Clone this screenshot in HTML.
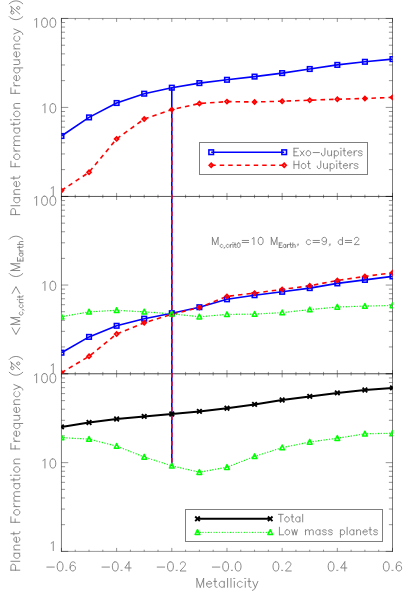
<!DOCTYPE html>
<html><head><meta charset="utf-8"><title>plot</title>
<style>html,body{margin:0;padding:0;background:#fff;font-family:"Liberation Sans",sans-serif}svg{display:block}</style></head>
<body>
<svg width="409" height="613" viewBox="0 0 409 613">
<rect width="409" height="613" fill="#fff"/>
<path d="M61.45 17.95 V196.90 M392.50 17.95 V196.90" fill="none" stroke="#000" stroke-width="1" stroke-opacity="0.52"/>
<path d="M61.45 18.45 H392.50" fill="none" stroke="#000" stroke-width="1" stroke-opacity="0.4"/>
<path d="M61.45 196.40 H392.50" fill="none" stroke="#000" stroke-width="1" stroke-opacity="0.4"/>
<path d="M61.45 18.45 v3.50M61.45 196.40 v-3.50M75.24 18.45 v1.70M75.24 196.40 v-1.70M89.04 18.45 v1.70M89.04 196.40 v-1.70M102.83 18.45 v1.70M102.83 196.40 v-1.70M116.62 18.45 v3.50M116.62 196.40 v-3.50M130.42 18.45 v1.70M130.42 196.40 v-1.70M144.21 18.45 v1.70M144.21 196.40 v-1.70M158.01 18.45 v1.70M158.01 196.40 v-1.70M171.80 18.45 v3.50M171.80 196.40 v-3.50M185.59 18.45 v1.70M185.59 196.40 v-1.70M199.39 18.45 v1.70M199.39 196.40 v-1.70M213.18 18.45 v1.70M213.18 196.40 v-1.70M226.98 18.45 v3.50M226.98 196.40 v-3.50M240.77 18.45 v1.70M240.77 196.40 v-1.70M254.56 18.45 v1.70M254.56 196.40 v-1.70M268.36 18.45 v1.70M268.36 196.40 v-1.70M282.15 18.45 v3.50M282.15 196.40 v-3.50M295.94 18.45 v1.70M295.94 196.40 v-1.70M309.74 18.45 v1.70M309.74 196.40 v-1.70M323.53 18.45 v1.70M323.53 196.40 v-1.70M337.32 18.45 v3.50M337.32 196.40 v-3.50M351.12 18.45 v1.70M351.12 196.40 v-1.70M364.91 18.45 v1.70M364.91 196.40 v-1.70M378.71 18.45 v1.70M378.71 196.40 v-1.70M392.50 18.45 v3.50M392.50 196.40 v-3.50M61.45 196.40 h6.80M392.50 196.40 h-6.80M61.45 169.62 h3.60M392.50 169.62 h-3.60M61.45 153.95 h3.60M392.50 153.95 h-3.60M61.45 142.83 h3.60M392.50 142.83 h-3.60M61.45 134.21 h3.60M392.50 134.21 h-3.60M61.45 127.16 h3.60M392.50 127.16 h-3.60M61.45 121.21 h3.60M392.50 121.21 h-3.60M61.45 116.05 h3.60M392.50 116.05 h-3.60M61.45 111.50 h3.60M392.50 111.50 h-3.60M61.45 107.42 h6.80M392.50 107.42 h-6.80M61.45 80.64 h3.60M392.50 80.64 h-3.60M61.45 64.97 h3.60M392.50 64.97 h-3.60M61.45 53.86 h3.60M392.50 53.86 h-3.60M61.45 45.23 h3.60M392.50 45.23 h-3.60M61.45 38.19 h3.60M392.50 38.19 h-3.60M61.45 32.23 h3.60M392.50 32.23 h-3.60M61.45 27.07 h3.60M392.50 27.07 h-3.60M61.45 22.52 h3.60M392.50 22.52 h-3.60M61.45 18.45 h6.8 M392.50 18.45 h-6.8" fill="none" stroke="#000" stroke-width="1" stroke-opacity="0.42"/>
<path d="M61.45 196.00 V374.10 M392.50 196.00 V374.10" fill="none" stroke="#000" stroke-width="1" stroke-opacity="0.52"/>
<path d="M61.45 196.50 H392.50" fill="none" stroke="#000" stroke-width="1" stroke-opacity="0.4"/>
<path d="M61.45 373.60 H392.50" fill="none" stroke="#000" stroke-width="1" stroke-opacity="0.4"/>
<path d="M61.45 196.50 v3.50M61.45 373.60 v-3.50M75.24 196.50 v1.70M75.24 373.60 v-1.70M89.04 196.50 v1.70M89.04 373.60 v-1.70M102.83 196.50 v1.70M102.83 373.60 v-1.70M116.62 196.50 v3.50M116.62 373.60 v-3.50M130.42 196.50 v1.70M130.42 373.60 v-1.70M144.21 196.50 v1.70M144.21 373.60 v-1.70M158.01 196.50 v1.70M158.01 373.60 v-1.70M171.80 196.50 v3.50M171.80 373.60 v-3.50M185.59 196.50 v1.70M185.59 373.60 v-1.70M199.39 196.50 v1.70M199.39 373.60 v-1.70M213.18 196.50 v1.70M213.18 373.60 v-1.70M226.98 196.50 v3.50M226.98 373.60 v-3.50M240.77 196.50 v1.70M240.77 373.60 v-1.70M254.56 196.50 v1.70M254.56 373.60 v-1.70M268.36 196.50 v1.70M268.36 373.60 v-1.70M282.15 196.50 v3.50M282.15 373.60 v-3.50M295.94 196.50 v1.70M295.94 373.60 v-1.70M309.74 196.50 v1.70M309.74 373.60 v-1.70M323.53 196.50 v1.70M323.53 373.60 v-1.70M337.32 196.50 v3.50M337.32 373.60 v-3.50M351.12 196.50 v1.70M351.12 373.60 v-1.70M364.91 196.50 v1.70M364.91 373.60 v-1.70M378.71 196.50 v1.70M378.71 373.60 v-1.70M392.50 196.50 v3.50M392.50 373.60 v-3.50M61.45 373.60 h6.80M392.50 373.60 h-6.80M61.45 346.94 h3.60M392.50 346.94 h-3.60M61.45 331.35 h3.60M392.50 331.35 h-3.60M61.45 320.29 h3.60M392.50 320.29 h-3.60M61.45 311.71 h3.60M392.50 311.71 h-3.60M61.45 304.69 h3.60M392.50 304.69 h-3.60M61.45 298.77 h3.60M392.50 298.77 h-3.60M61.45 293.63 h3.60M392.50 293.63 h-3.60M61.45 289.10 h3.60M392.50 289.10 h-3.60M61.45 285.05 h6.80M392.50 285.05 h-6.80M61.45 258.39 h3.60M392.50 258.39 h-3.60M61.45 242.80 h3.60M392.50 242.80 h-3.60M61.45 231.74 h3.60M392.50 231.74 h-3.60M61.45 223.16 h3.60M392.50 223.16 h-3.60M61.45 216.14 h3.60M392.50 216.14 h-3.60M61.45 210.22 h3.60M392.50 210.22 h-3.60M61.45 205.08 h3.60M392.50 205.08 h-3.60M61.45 200.55 h3.60M392.50 200.55 h-3.60M61.45 196.50 h6.8 M392.50 196.50 h-6.8" fill="none" stroke="#000" stroke-width="1" stroke-opacity="0.42"/>
<path d="M61.45 373.40 V551.90 M392.50 373.40 V551.90" fill="none" stroke="#000" stroke-width="1" stroke-opacity="0.52"/>
<path d="M61.45 373.90 H392.50" fill="none" stroke="#000" stroke-width="1" stroke-opacity="0.4"/>
<path d="M61.45 551.40 H392.50" fill="none" stroke="#000" stroke-width="1" stroke-opacity="0.4"/>
<path d="M61.45 373.90 v3.50M61.45 551.40 v-3.50M75.24 373.90 v1.70M75.24 551.40 v-1.70M89.04 373.90 v1.70M89.04 551.40 v-1.70M102.83 373.90 v1.70M102.83 551.40 v-1.70M116.62 373.90 v3.50M116.62 551.40 v-3.50M130.42 373.90 v1.70M130.42 551.40 v-1.70M144.21 373.90 v1.70M144.21 551.40 v-1.70M158.01 373.90 v1.70M158.01 551.40 v-1.70M171.80 373.90 v3.50M171.80 551.40 v-3.50M185.59 373.90 v1.70M185.59 551.40 v-1.70M199.39 373.90 v1.70M199.39 551.40 v-1.70M213.18 373.90 v1.70M213.18 551.40 v-1.70M226.98 373.90 v3.50M226.98 551.40 v-3.50M240.77 373.90 v1.70M240.77 551.40 v-1.70M254.56 373.90 v1.70M254.56 551.40 v-1.70M268.36 373.90 v1.70M268.36 551.40 v-1.70M282.15 373.90 v3.50M282.15 551.40 v-3.50M295.94 373.90 v1.70M295.94 551.40 v-1.70M309.74 373.90 v1.70M309.74 551.40 v-1.70M323.53 373.90 v1.70M323.53 551.40 v-1.70M337.32 373.90 v3.50M337.32 551.40 v-3.50M351.12 373.90 v1.70M351.12 551.40 v-1.70M364.91 373.90 v1.70M364.91 551.40 v-1.70M378.71 373.90 v1.70M378.71 551.40 v-1.70M392.50 373.90 v3.50M392.50 551.40 v-3.50M61.45 551.40 h6.80M392.50 551.40 h-6.80M61.45 524.68 h3.60M392.50 524.68 h-3.60M61.45 509.06 h3.60M392.50 509.06 h-3.60M61.45 497.97 h3.60M392.50 497.97 h-3.60M61.45 489.37 h3.60M392.50 489.37 h-3.60M61.45 482.34 h3.60M392.50 482.34 h-3.60M61.45 476.40 h3.60M392.50 476.40 h-3.60M61.45 471.25 h3.60M392.50 471.25 h-3.60M61.45 466.71 h3.60M392.50 466.71 h-3.60M61.45 462.65 h6.80M392.50 462.65 h-6.80M61.45 435.93 h3.60M392.50 435.93 h-3.60M61.45 420.31 h3.60M392.50 420.31 h-3.60M61.45 409.22 h3.60M392.50 409.22 h-3.60M61.45 400.62 h3.60M392.50 400.62 h-3.60M61.45 393.59 h3.60M392.50 393.59 h-3.60M61.45 387.65 h3.60M392.50 387.65 h-3.60M61.45 382.50 h3.60M392.50 382.50 h-3.60M61.45 377.96 h3.60M392.50 377.96 h-3.60M61.45 373.90 h6.8 M392.50 373.90 h-6.8" fill="none" stroke="#000" stroke-width="1" stroke-opacity="0.42"/>
<line x1="171.80" y1="87.70" x2="171.80" y2="465.80" stroke="#0000ff" stroke-width="1.6"/>
<line x1="171.80" y1="109.60" x2="171.80" y2="465.80" stroke="#ff0000" stroke-width="1.6" stroke-dasharray="4.5 4.0"/>
<defs><clipPath id="c0"><rect x="61.25" y="18.45" width="331.65" height="177.95"/></clipPath><clipPath id="c1"><rect x="61.25" y="196.50" width="331.65" height="177.10"/></clipPath><clipPath id="c2"><rect x="61.25" y="373.90" width="331.65" height="177.50"/></clipPath></defs>
<g clip-path="url(#c0)">
<polyline points="61.45,136.00 89.04,117.40 116.62,103.00 144.21,93.70 171.80,87.70 199.39,83.10 226.98,79.80 254.56,76.60 282.15,73.10 309.74,69.00 337.32,64.90 364.91,61.80 392.50,59.10" fill="none" stroke="#0000ff" stroke-width="1.6" stroke-linejoin="round"/>
<polyline points="61.45,190.50 89.04,172.30 116.62,138.90 144.21,119.00 171.80,109.60 199.39,103.50 226.98,101.60 254.56,102.00 282.15,101.20 309.74,100.20 337.32,99.20 364.91,98.50 392.50,97.40" fill="none" stroke="#ff0000" stroke-width="1.6" stroke-dasharray="4.5 4.0" stroke-linejoin="round"/>
<rect x="59.15" y="133.70" width="4.60" height="4.60" fill="none" stroke="#0000ff" stroke-width="1.55"/>
<path d="M59.40 190.50 L61.45 188.45 L63.50 190.50 L61.45 192.55 Z" fill="#ff0000" fill-opacity="0.45" stroke="#ff0000" stroke-width="1.6"/>
<rect x="86.74" y="115.10" width="4.60" height="4.60" fill="none" stroke="#0000ff" stroke-width="1.55"/>
<path d="M86.99 172.30 L89.04 170.25 L91.09 172.30 L89.04 174.35 Z" fill="#ff0000" fill-opacity="0.45" stroke="#ff0000" stroke-width="1.6"/>
<rect x="114.33" y="100.70" width="4.60" height="4.60" fill="none" stroke="#0000ff" stroke-width="1.55"/>
<path d="M114.58 138.90 L116.62 136.85 L118.67 138.90 L116.62 140.95 Z" fill="#ff0000" fill-opacity="0.45" stroke="#ff0000" stroke-width="1.6"/>
<rect x="141.91" y="91.40" width="4.60" height="4.60" fill="none" stroke="#0000ff" stroke-width="1.55"/>
<path d="M142.16 119.00 L144.21 116.95 L146.26 119.00 L144.21 121.05 Z" fill="#ff0000" fill-opacity="0.45" stroke="#ff0000" stroke-width="1.6"/>
<rect x="169.50" y="85.40" width="4.60" height="4.60" fill="none" stroke="#0000ff" stroke-width="1.55"/>
<path d="M169.75 109.60 L171.80 107.55 L173.85 109.60 L171.80 111.65 Z" fill="#ff0000" fill-opacity="0.45" stroke="#ff0000" stroke-width="1.6"/>
<rect x="197.09" y="80.80" width="4.60" height="4.60" fill="none" stroke="#0000ff" stroke-width="1.55"/>
<path d="M197.34 103.50 L199.39 101.45 L201.44 103.50 L199.39 105.55 Z" fill="#ff0000" fill-opacity="0.45" stroke="#ff0000" stroke-width="1.6"/>
<rect x="224.68" y="77.50" width="4.60" height="4.60" fill="none" stroke="#0000ff" stroke-width="1.55"/>
<path d="M224.93 101.60 L226.98 99.55 L229.03 101.60 L226.98 103.65 Z" fill="#ff0000" fill-opacity="0.45" stroke="#ff0000" stroke-width="1.6"/>
<rect x="252.26" y="74.30" width="4.60" height="4.60" fill="none" stroke="#0000ff" stroke-width="1.55"/>
<path d="M252.51 102.00 L254.56 99.95 L256.61 102.00 L254.56 104.05 Z" fill="#ff0000" fill-opacity="0.45" stroke="#ff0000" stroke-width="1.6"/>
<rect x="279.85" y="70.80" width="4.60" height="4.60" fill="none" stroke="#0000ff" stroke-width="1.55"/>
<path d="M280.10 101.20 L282.15 99.15 L284.20 101.20 L282.15 103.25 Z" fill="#ff0000" fill-opacity="0.45" stroke="#ff0000" stroke-width="1.6"/>
<rect x="307.44" y="66.70" width="4.60" height="4.60" fill="none" stroke="#0000ff" stroke-width="1.55"/>
<path d="M307.69 100.20 L309.74 98.15 L311.79 100.20 L309.74 102.25 Z" fill="#ff0000" fill-opacity="0.45" stroke="#ff0000" stroke-width="1.6"/>
<rect x="335.02" y="62.60" width="4.60" height="4.60" fill="none" stroke="#0000ff" stroke-width="1.55"/>
<path d="M335.27 99.20 L337.32 97.15 L339.38 99.20 L337.32 101.25 Z" fill="#ff0000" fill-opacity="0.45" stroke="#ff0000" stroke-width="1.6"/>
<rect x="362.61" y="59.50" width="4.60" height="4.60" fill="none" stroke="#0000ff" stroke-width="1.55"/>
<path d="M362.86 98.50 L364.91 96.45 L366.96 98.50 L364.91 100.55 Z" fill="#ff0000" fill-opacity="0.45" stroke="#ff0000" stroke-width="1.6"/>
<rect x="390.20" y="56.80" width="4.60" height="4.60" fill="none" stroke="#0000ff" stroke-width="1.55"/>
<path d="M390.45 97.40 L392.50 95.35 L394.55 97.40 L392.50 99.45 Z" fill="#ff0000" fill-opacity="0.45" stroke="#ff0000" stroke-width="1.6"/>
</g>
<g clip-path="url(#c1)">
<polyline points="61.45,352.70 89.04,336.90 116.62,325.80 144.21,318.70 171.80,313.20 199.39,307.20 226.98,299.30 254.56,295.20 282.15,291.80 309.74,288.10 337.32,283.40 364.91,279.90 392.50,276.40" fill="none" stroke="#0000ff" stroke-width="1.6" stroke-linejoin="round"/>
<polyline points="61.45,372.70 89.04,356.30 116.62,334.00 144.21,322.80 171.80,314.30 199.39,307.50 226.98,296.40 254.56,293.10 282.15,289.40 309.74,285.80 337.32,280.50 364.91,276.40 392.50,272.80" fill="none" stroke="#ff0000" stroke-width="1.6" stroke-dasharray="4.5 4.0" stroke-linejoin="round"/>
<polyline points="61.45,316.70 89.04,311.80 116.62,310.30 144.21,311.80 171.80,313.80 199.39,316.70 226.98,314.40 254.56,314.10 282.15,312.60 309.74,309.60 337.32,307.00 364.91,306.10 392.50,305.50" fill="none" stroke="#00ff00" stroke-width="1.35" stroke-dasharray="0.1 2.65" stroke-linejoin="round" stroke-linecap="round"/>
<rect x="59.15" y="350.40" width="4.60" height="4.60" fill="none" stroke="#0000ff" stroke-width="1.55"/>
<path d="M59.40 372.70 L61.45 370.65 L63.50 372.70 L61.45 374.75 Z" fill="#ff0000" fill-opacity="0.45" stroke="#ff0000" stroke-width="1.6"/>
<path d="M59.05 318.90 L61.45 314.10 L63.85 318.90 Z" fill="none" stroke="#00ff00" stroke-width="1.5" stroke-linejoin="round"/>
<rect x="86.74" y="334.60" width="4.60" height="4.60" fill="none" stroke="#0000ff" stroke-width="1.55"/>
<path d="M86.99 356.30 L89.04 354.25 L91.09 356.30 L89.04 358.35 Z" fill="#ff0000" fill-opacity="0.45" stroke="#ff0000" stroke-width="1.6"/>
<path d="M86.64 314.00 L89.04 309.20 L91.44 314.00 Z" fill="none" stroke="#00ff00" stroke-width="1.5" stroke-linejoin="round"/>
<rect x="114.33" y="323.50" width="4.60" height="4.60" fill="none" stroke="#0000ff" stroke-width="1.55"/>
<path d="M114.58 334.00 L116.62 331.95 L118.67 334.00 L116.62 336.05 Z" fill="#ff0000" fill-opacity="0.45" stroke="#ff0000" stroke-width="1.6"/>
<path d="M114.22 312.50 L116.62 307.70 L119.03 312.50 Z" fill="none" stroke="#00ff00" stroke-width="1.5" stroke-linejoin="round"/>
<rect x="141.91" y="316.40" width="4.60" height="4.60" fill="none" stroke="#0000ff" stroke-width="1.55"/>
<path d="M142.16 322.80 L144.21 320.75 L146.26 322.80 L144.21 324.85 Z" fill="#ff0000" fill-opacity="0.45" stroke="#ff0000" stroke-width="1.6"/>
<path d="M141.81 314.00 L144.21 309.20 L146.61 314.00 Z" fill="none" stroke="#00ff00" stroke-width="1.5" stroke-linejoin="round"/>
<rect x="169.50" y="310.90" width="4.60" height="4.60" fill="none" stroke="#0000ff" stroke-width="1.55"/>
<path d="M169.75 314.30 L171.80 312.25 L173.85 314.30 L171.80 316.35 Z" fill="#ff0000" fill-opacity="0.45" stroke="#ff0000" stroke-width="1.6"/>
<path d="M169.40 316.00 L171.80 311.20 L174.20 316.00 Z" fill="none" stroke="#00ff00" stroke-width="1.5" stroke-linejoin="round"/>
<rect x="197.09" y="304.90" width="4.60" height="4.60" fill="none" stroke="#0000ff" stroke-width="1.55"/>
<path d="M197.34 307.50 L199.39 305.45 L201.44 307.50 L199.39 309.55 Z" fill="#ff0000" fill-opacity="0.45" stroke="#ff0000" stroke-width="1.6"/>
<path d="M196.99 318.90 L199.39 314.10 L201.79 318.90 Z" fill="none" stroke="#00ff00" stroke-width="1.5" stroke-linejoin="round"/>
<rect x="224.68" y="297.00" width="4.60" height="4.60" fill="none" stroke="#0000ff" stroke-width="1.55"/>
<path d="M224.93 296.40 L226.98 294.35 L229.03 296.40 L226.98 298.45 Z" fill="#ff0000" fill-opacity="0.45" stroke="#ff0000" stroke-width="1.6"/>
<path d="M224.58 316.60 L226.98 311.80 L229.38 316.60 Z" fill="none" stroke="#00ff00" stroke-width="1.5" stroke-linejoin="round"/>
<rect x="252.26" y="292.90" width="4.60" height="4.60" fill="none" stroke="#0000ff" stroke-width="1.55"/>
<path d="M252.51 293.10 L254.56 291.05 L256.61 293.10 L254.56 295.15 Z" fill="#ff0000" fill-opacity="0.45" stroke="#ff0000" stroke-width="1.6"/>
<path d="M252.16 316.30 L254.56 311.50 L256.96 316.30 Z" fill="none" stroke="#00ff00" stroke-width="1.5" stroke-linejoin="round"/>
<rect x="279.85" y="289.50" width="4.60" height="4.60" fill="none" stroke="#0000ff" stroke-width="1.55"/>
<path d="M280.10 289.40 L282.15 287.35 L284.20 289.40 L282.15 291.45 Z" fill="#ff0000" fill-opacity="0.45" stroke="#ff0000" stroke-width="1.6"/>
<path d="M279.75 314.80 L282.15 310.00 L284.55 314.80 Z" fill="none" stroke="#00ff00" stroke-width="1.5" stroke-linejoin="round"/>
<rect x="307.44" y="285.80" width="4.60" height="4.60" fill="none" stroke="#0000ff" stroke-width="1.55"/>
<path d="M307.69 285.80 L309.74 283.75 L311.79 285.80 L309.74 287.85 Z" fill="#ff0000" fill-opacity="0.45" stroke="#ff0000" stroke-width="1.6"/>
<path d="M307.34 311.80 L309.74 307.00 L312.14 311.80 Z" fill="none" stroke="#00ff00" stroke-width="1.5" stroke-linejoin="round"/>
<rect x="335.02" y="281.10" width="4.60" height="4.60" fill="none" stroke="#0000ff" stroke-width="1.55"/>
<path d="M335.27 280.50 L337.32 278.45 L339.38 280.50 L337.32 282.55 Z" fill="#ff0000" fill-opacity="0.45" stroke="#ff0000" stroke-width="1.6"/>
<path d="M334.93 309.20 L337.32 304.40 L339.72 309.20 Z" fill="none" stroke="#00ff00" stroke-width="1.5" stroke-linejoin="round"/>
<rect x="362.61" y="277.60" width="4.60" height="4.60" fill="none" stroke="#0000ff" stroke-width="1.55"/>
<path d="M362.86 276.40 L364.91 274.35 L366.96 276.40 L364.91 278.45 Z" fill="#ff0000" fill-opacity="0.45" stroke="#ff0000" stroke-width="1.6"/>
<path d="M362.51 308.30 L364.91 303.50 L367.31 308.30 Z" fill="none" stroke="#00ff00" stroke-width="1.5" stroke-linejoin="round"/>
<rect x="390.20" y="274.10" width="4.60" height="4.60" fill="none" stroke="#0000ff" stroke-width="1.55"/>
<path d="M390.45 272.80 L392.50 270.75 L394.55 272.80 L392.50 274.85 Z" fill="#ff0000" fill-opacity="0.45" stroke="#ff0000" stroke-width="1.6"/>
<path d="M390.10 307.70 L392.50 302.90 L394.90 307.70 Z" fill="none" stroke="#00ff00" stroke-width="1.5" stroke-linejoin="round"/>
</g>
<g clip-path="url(#c2)">
<polyline points="61.45,426.90 89.04,422.50 116.62,419.00 144.21,416.40 171.80,414.00 199.39,411.40 226.98,408.20 254.56,404.40 282.15,400.00 309.74,396.40 337.32,392.90 364.91,390.00 392.50,387.90" fill="none" stroke="#000" stroke-width="2" stroke-linejoin="round"/>
<polyline points="61.45,437.60 89.04,439.10 116.62,446.10 144.21,457.00 171.80,465.80 199.39,472.20 226.98,467.20 254.56,456.40 282.15,447.60 309.74,442.00 337.32,438.20 364.91,433.80 392.50,433.20" fill="none" stroke="#00ff00" stroke-width="1.35" stroke-dasharray="0.1 2.65" stroke-linejoin="round" stroke-linecap="round"/>
<path d="M59.15 424.60 L63.75 429.20 M59.15 429.20 L63.75 424.60" fill="none" stroke="#000" stroke-width="1.9"/>
<path d="M59.05 439.80 L61.45 435.00 L63.85 439.80 Z" fill="none" stroke="#00ff00" stroke-width="1.5" stroke-linejoin="round"/>
<path d="M86.74 420.20 L91.34 424.80 M86.74 424.80 L91.34 420.20" fill="none" stroke="#000" stroke-width="1.9"/>
<path d="M86.64 441.30 L89.04 436.50 L91.44 441.30 Z" fill="none" stroke="#00ff00" stroke-width="1.5" stroke-linejoin="round"/>
<path d="M114.33 416.70 L118.92 421.30 M114.33 421.30 L118.92 416.70" fill="none" stroke="#000" stroke-width="1.9"/>
<path d="M114.22 448.30 L116.62 443.50 L119.03 448.30 Z" fill="none" stroke="#00ff00" stroke-width="1.5" stroke-linejoin="round"/>
<path d="M141.91 414.10 L146.51 418.70 M141.91 418.70 L146.51 414.10" fill="none" stroke="#000" stroke-width="1.9"/>
<path d="M141.81 459.20 L144.21 454.40 L146.61 459.20 Z" fill="none" stroke="#00ff00" stroke-width="1.5" stroke-linejoin="round"/>
<path d="M169.50 411.70 L174.10 416.30 M169.50 416.30 L174.10 411.70" fill="none" stroke="#000" stroke-width="1.9"/>
<path d="M169.40 468.00 L171.80 463.20 L174.20 468.00 Z" fill="none" stroke="#00ff00" stroke-width="1.5" stroke-linejoin="round"/>
<path d="M197.09 409.10 L201.69 413.70 M197.09 413.70 L201.69 409.10" fill="none" stroke="#000" stroke-width="1.9"/>
<path d="M196.99 474.40 L199.39 469.60 L201.79 474.40 Z" fill="none" stroke="#00ff00" stroke-width="1.5" stroke-linejoin="round"/>
<path d="M224.68 405.90 L229.28 410.50 M224.68 410.50 L229.28 405.90" fill="none" stroke="#000" stroke-width="1.9"/>
<path d="M224.58 469.40 L226.98 464.60 L229.38 469.40 Z" fill="none" stroke="#00ff00" stroke-width="1.5" stroke-linejoin="round"/>
<path d="M252.26 402.10 L256.86 406.70 M252.26 406.70 L256.86 402.10" fill="none" stroke="#000" stroke-width="1.9"/>
<path d="M252.16 458.60 L254.56 453.80 L256.96 458.60 Z" fill="none" stroke="#00ff00" stroke-width="1.5" stroke-linejoin="round"/>
<path d="M279.85 397.70 L284.45 402.30 M279.85 402.30 L284.45 397.70" fill="none" stroke="#000" stroke-width="1.9"/>
<path d="M279.75 449.80 L282.15 445.00 L284.55 449.80 Z" fill="none" stroke="#00ff00" stroke-width="1.5" stroke-linejoin="round"/>
<path d="M307.44 394.10 L312.04 398.70 M307.44 398.70 L312.04 394.10" fill="none" stroke="#000" stroke-width="1.9"/>
<path d="M307.34 444.20 L309.74 439.40 L312.14 444.20 Z" fill="none" stroke="#00ff00" stroke-width="1.5" stroke-linejoin="round"/>
<path d="M335.02 390.60 L339.62 395.20 M335.02 395.20 L339.62 390.60" fill="none" stroke="#000" stroke-width="1.9"/>
<path d="M334.93 440.40 L337.32 435.60 L339.72 440.40 Z" fill="none" stroke="#00ff00" stroke-width="1.5" stroke-linejoin="round"/>
<path d="M362.61 387.70 L367.21 392.30 M362.61 392.30 L367.21 387.70" fill="none" stroke="#000" stroke-width="1.9"/>
<path d="M362.51 436.00 L364.91 431.20 L367.31 436.00 Z" fill="none" stroke="#00ff00" stroke-width="1.5" stroke-linejoin="round"/>
<path d="M390.20 385.60 L394.80 390.20 M390.20 390.20 L394.80 385.60" fill="none" stroke="#000" stroke-width="1.9"/>
<path d="M390.10 435.40 L392.50 430.60 L394.90 435.40 Z" fill="none" stroke="#00ff00" stroke-width="1.5" stroke-linejoin="round"/>
</g>
<path transform="translate(57.00 27.29)" d="M-22.43 -7.39 L-21.60 -7.83 L-20.36 -9.13 L-20.36 0.00M-12.88 -9.13 L-14.12 -8.70 L-14.96 -7.39 L-15.37 -5.22 L-15.37 -3.92 L-14.96 -1.74 L-14.12 -0.43 L-12.88 0.00 L-12.05 0.00 L-10.80 -0.43 L-9.97 -1.74 L-9.55 -3.92 L-9.55 -5.22 L-9.97 -7.39 L-10.80 -8.70 L-12.05 -9.13 L-12.88 -9.13M-4.57 -9.13 L-5.82 -8.70 L-6.65 -7.39 L-7.06 -5.22 L-7.06 -3.92 L-6.65 -1.74 L-5.82 -0.43 L-4.57 0.00 L-3.74 0.00 L-2.49 -0.43 L-1.66 -1.74 L-1.25 -3.92 L-1.25 -5.22 L-1.66 -7.39 L-2.49 -8.70 L-3.74 -9.13 L-4.57 -9.13" fill="none" stroke="#7a7a7a" stroke-width="0.9" stroke-linecap="round" stroke-linejoin="round"/>
<path transform="translate(57.00 112.79)" d="M-14.12 -7.39 L-13.29 -7.83 L-12.05 -9.13 L-12.05 0.00M-4.57 -9.13 L-5.82 -8.70 L-6.65 -7.39 L-7.06 -5.22 L-7.06 -3.92 L-6.65 -1.74 L-5.82 -0.43 L-4.57 0.00 L-3.74 0.00 L-2.49 -0.43 L-1.66 -1.74 L-1.25 -3.92 L-1.25 -5.22 L-1.66 -7.39 L-2.49 -8.70 L-3.74 -9.13 L-4.57 -9.13" fill="none" stroke="#7a7a7a" stroke-width="0.9" stroke-linecap="round" stroke-linejoin="round"/>
<path transform="translate(57.00 195.60)" d="M-5.82 -7.39 L-4.99 -7.83 L-3.74 -9.13 L-3.74 0.00" fill="none" stroke="#7a7a7a" stroke-width="0.9" stroke-linecap="round" stroke-linejoin="round"/>
<path transform="translate(57.00 205.33)" d="M-22.43 -7.39 L-21.60 -7.83 L-20.36 -9.13 L-20.36 0.00M-12.88 -9.13 L-14.12 -8.70 L-14.96 -7.39 L-15.37 -5.22 L-15.37 -3.92 L-14.96 -1.74 L-14.12 -0.43 L-12.88 0.00 L-12.05 0.00 L-10.80 -0.43 L-9.97 -1.74 L-9.55 -3.92 L-9.55 -5.22 L-9.97 -7.39 L-10.80 -8.70 L-12.05 -9.13 L-12.88 -9.13M-4.57 -9.13 L-5.82 -8.70 L-6.65 -7.39 L-7.06 -5.22 L-7.06 -3.92 L-6.65 -1.74 L-5.82 -0.43 L-4.57 0.00 L-3.74 0.00 L-2.49 -0.43 L-1.66 -1.74 L-1.25 -3.92 L-1.25 -5.22 L-1.66 -7.39 L-2.49 -8.70 L-3.74 -9.13 L-4.57 -9.13" fill="none" stroke="#7a7a7a" stroke-width="0.9" stroke-linecap="round" stroke-linejoin="round"/>
<path transform="translate(57.00 290.42)" d="M-14.12 -7.39 L-13.29 -7.83 L-12.05 -9.13 L-12.05 0.00M-4.57 -9.13 L-5.82 -8.70 L-6.65 -7.39 L-7.06 -5.22 L-7.06 -3.92 L-6.65 -1.74 L-5.82 -0.43 L-4.57 0.00 L-3.74 0.00 L-2.49 -0.43 L-1.66 -1.74 L-1.25 -3.92 L-1.25 -5.22 L-1.66 -7.39 L-2.49 -8.70 L-3.74 -9.13 L-4.57 -9.13" fill="none" stroke="#7a7a7a" stroke-width="0.9" stroke-linecap="round" stroke-linejoin="round"/>
<path transform="translate(57.00 372.80)" d="M-5.82 -7.39 L-4.99 -7.83 L-3.74 -9.13 L-3.74 0.00" fill="none" stroke="#7a7a7a" stroke-width="0.9" stroke-linecap="round" stroke-linejoin="round"/>
<path transform="translate(57.00 382.73)" d="M-22.43 -7.39 L-21.60 -7.83 L-20.36 -9.13 L-20.36 0.00M-12.88 -9.13 L-14.12 -8.70 L-14.96 -7.39 L-15.37 -5.22 L-15.37 -3.92 L-14.96 -1.74 L-14.12 -0.43 L-12.88 0.00 L-12.05 0.00 L-10.80 -0.43 L-9.97 -1.74 L-9.55 -3.92 L-9.55 -5.22 L-9.97 -7.39 L-10.80 -8.70 L-12.05 -9.13 L-12.88 -9.13M-4.57 -9.13 L-5.82 -8.70 L-6.65 -7.39 L-7.06 -5.22 L-7.06 -3.92 L-6.65 -1.74 L-5.82 -0.43 L-4.57 0.00 L-3.74 0.00 L-2.49 -0.43 L-1.66 -1.74 L-1.25 -3.92 L-1.25 -5.22 L-1.66 -7.39 L-2.49 -8.70 L-3.74 -9.13 L-4.57 -9.13" fill="none" stroke="#7a7a7a" stroke-width="0.9" stroke-linecap="round" stroke-linejoin="round"/>
<path transform="translate(57.00 468.02)" d="M-14.12 -7.39 L-13.29 -7.83 L-12.05 -9.13 L-12.05 0.00M-4.57 -9.13 L-5.82 -8.70 L-6.65 -7.39 L-7.06 -5.22 L-7.06 -3.92 L-6.65 -1.74 L-5.82 -0.43 L-4.57 0.00 L-3.74 0.00 L-2.49 -0.43 L-1.66 -1.74 L-1.25 -3.92 L-1.25 -5.22 L-1.66 -7.39 L-2.49 -8.70 L-3.74 -9.13 L-4.57 -9.13" fill="none" stroke="#7a7a7a" stroke-width="0.9" stroke-linecap="round" stroke-linejoin="round"/>
<path transform="translate(57.00 550.60)" d="M-5.82 -7.39 L-4.99 -7.83 L-3.74 -9.13 L-3.74 0.00" fill="none" stroke="#7a7a7a" stroke-width="0.9" stroke-linecap="round" stroke-linejoin="round"/>
<path transform="translate(60.95 571.00)" d="M-14.12 -3.92 L-6.65 -3.92M-1.25 -9.13 L-2.49 -8.70 L-3.32 -7.39 L-3.74 -5.22 L-3.74 -3.92 L-3.32 -1.74 L-2.49 -0.43 L-1.25 0.00 L-0.42 0.00 L0.83 -0.43 L1.66 -1.74 L2.08 -3.92 L2.08 -5.22 L1.66 -7.39 L0.83 -8.70 L-0.42 -9.13 L-1.25 -9.13M5.40 -0.87 L4.99 -0.43 L5.40 0.00 L5.82 -0.43 L5.40 -0.87M14.12 -7.83 L13.71 -8.70 L12.46 -9.13 L11.63 -9.13 L10.39 -8.70 L9.55 -7.39 L9.14 -5.22 L9.14 -3.04 L9.55 -1.30 L10.39 -0.43 L11.63 0.00 L12.05 0.00 L13.29 -0.43 L14.12 -1.30 L14.54 -2.61 L14.54 -3.04 L14.12 -4.35 L13.29 -5.22 L12.05 -5.66 L11.63 -5.66 L10.39 -5.22 L9.55 -4.35 L9.14 -3.04" fill="none" stroke="#7a7a7a" stroke-width="0.9" stroke-linecap="round" stroke-linejoin="round"/>
<path transform="translate(116.12 571.00)" d="M-14.12 -3.92 L-6.65 -3.92M-1.25 -9.13 L-2.49 -8.70 L-3.32 -7.39 L-3.74 -5.22 L-3.74 -3.92 L-3.32 -1.74 L-2.49 -0.43 L-1.25 0.00 L-0.42 0.00 L0.83 -0.43 L1.66 -1.74 L2.08 -3.92 L2.08 -5.22 L1.66 -7.39 L0.83 -8.70 L-0.42 -9.13 L-1.25 -9.13M5.40 -0.87 L4.99 -0.43 L5.40 0.00 L5.82 -0.43 L5.40 -0.87M12.88 -9.13 L8.72 -3.04 L14.96 -3.04M12.88 -9.13 L12.88 0.00" fill="none" stroke="#7a7a7a" stroke-width="0.9" stroke-linecap="round" stroke-linejoin="round"/>
<path transform="translate(171.30 571.00)" d="M-14.12 -3.92 L-6.65 -3.92M-1.25 -9.13 L-2.49 -8.70 L-3.32 -7.39 L-3.74 -5.22 L-3.74 -3.92 L-3.32 -1.74 L-2.49 -0.43 L-1.25 0.00 L-0.42 0.00 L0.83 -0.43 L1.66 -1.74 L2.08 -3.92 L2.08 -5.22 L1.66 -7.39 L0.83 -8.70 L-0.42 -9.13 L-1.25 -9.13M5.40 -0.87 L4.99 -0.43 L5.40 0.00 L5.82 -0.43 L5.40 -0.87M9.14 -6.96 L9.14 -7.39 L9.55 -8.27 L9.97 -8.70 L10.80 -9.13 L12.46 -9.13 L13.29 -8.70 L13.71 -8.27 L14.12 -7.39 L14.12 -6.53 L13.71 -5.66 L12.88 -4.35 L8.72 0.00 L14.54 0.00" fill="none" stroke="#7a7a7a" stroke-width="0.9" stroke-linecap="round" stroke-linejoin="round"/>
<path transform="translate(226.48 571.00)" d="M-14.12 -3.92 L-6.65 -3.92M-1.25 -9.13 L-2.49 -8.70 L-3.32 -7.39 L-3.74 -5.22 L-3.74 -3.92 L-3.32 -1.74 L-2.49 -0.43 L-1.25 0.00 L-0.42 0.00 L0.83 -0.43 L1.66 -1.74 L2.08 -3.92 L2.08 -5.22 L1.66 -7.39 L0.83 -8.70 L-0.42 -9.13 L-1.25 -9.13M5.40 -0.87 L4.99 -0.43 L5.40 0.00 L5.82 -0.43 L5.40 -0.87M11.22 -9.13 L9.97 -8.70 L9.14 -7.39 L8.72 -5.22 L8.72 -3.92 L9.14 -1.74 L9.97 -0.43 L11.22 0.00 L12.05 0.00 L13.29 -0.43 L14.12 -1.74 L14.54 -3.92 L14.54 -5.22 L14.12 -7.39 L13.29 -8.70 L12.05 -9.13 L11.22 -9.13" fill="none" stroke="#7a7a7a" stroke-width="0.9" stroke-linecap="round" stroke-linejoin="round"/>
<path transform="translate(282.15 571.00)" d="M-6.65 -9.13 L-7.89 -8.70 L-8.72 -7.39 L-9.14 -5.22 L-9.14 -3.92 L-8.72 -1.74 L-7.89 -0.43 L-6.65 0.00 L-5.82 0.00 L-4.57 -0.43 L-3.74 -1.74 L-3.32 -3.92 L-3.32 -5.22 L-3.74 -7.39 L-4.57 -8.70 L-5.82 -9.13 L-6.65 -9.13M-0.00 -0.87 L-0.42 -0.43 L-0.00 0.00 L0.42 -0.43 L-0.00 -0.87M3.74 -6.96 L3.74 -7.39 L4.15 -8.27 L4.57 -8.70 L5.40 -9.13 L7.06 -9.13 L7.89 -8.70 L8.31 -8.27 L8.72 -7.39 L8.72 -6.53 L8.31 -5.66 L7.48 -4.35 L3.32 0.00 L9.14 0.00" fill="none" stroke="#7a7a7a" stroke-width="0.9" stroke-linecap="round" stroke-linejoin="round"/>
<path transform="translate(337.32 571.00)" d="M-6.65 -9.13 L-7.89 -8.70 L-8.72 -7.39 L-9.14 -5.22 L-9.14 -3.92 L-8.72 -1.74 L-7.89 -0.43 L-6.65 0.00 L-5.82 0.00 L-4.57 -0.43 L-3.74 -1.74 L-3.32 -3.92 L-3.32 -5.22 L-3.74 -7.39 L-4.57 -8.70 L-5.82 -9.13 L-6.65 -9.13M-0.00 -0.87 L-0.42 -0.43 L-0.00 0.00 L0.42 -0.43 L-0.00 -0.87M7.48 -9.13 L3.32 -3.04 L9.55 -3.04M7.48 -9.13 L7.48 0.00" fill="none" stroke="#7a7a7a" stroke-width="0.9" stroke-linecap="round" stroke-linejoin="round"/>
<path transform="translate(392.50 571.00)" d="M-6.65 -9.13 L-7.89 -8.70 L-8.72 -7.39 L-9.14 -5.22 L-9.14 -3.92 L-8.72 -1.74 L-7.89 -0.43 L-6.65 0.00 L-5.82 0.00 L-4.57 -0.43 L-3.74 -1.74 L-3.32 -3.92 L-3.32 -5.22 L-3.74 -7.39 L-4.57 -8.70 L-5.82 -9.13 L-6.65 -9.13M-0.00 -0.87 L-0.42 -0.43 L-0.00 0.00 L0.42 -0.43 L-0.00 -0.87M8.72 -7.83 L8.31 -8.70 L7.06 -9.13 L6.23 -9.13 L4.99 -8.70 L4.15 -7.39 L3.74 -5.22 L3.74 -3.04 L4.15 -1.30 L4.99 -0.43 L6.23 0.00 L6.65 0.00 L7.89 -0.43 L8.72 -1.30 L9.14 -2.61 L9.14 -3.04 L8.72 -4.35 L7.89 -5.22 L6.65 -5.66 L6.23 -5.66 L4.99 -5.22 L4.15 -4.35 L3.74 -3.04" fill="none" stroke="#7a7a7a" stroke-width="0.9" stroke-linecap="round" stroke-linejoin="round"/>
<path transform="translate(226.97 587.30)" d="M-30.07 -8.90 L-30.07 0.00M-30.07 -8.90 L-26.71 0.00M-23.34 -8.90 L-26.71 0.00M-23.34 -8.90 L-23.34 0.00M-20.40 -3.39 L-15.35 -3.39 L-15.35 -4.24 L-15.77 -5.09 L-16.19 -5.51 L-17.03 -5.94 L-18.30 -5.94 L-19.14 -5.51 L-19.98 -4.66 L-20.40 -3.39 L-20.40 -2.54 L-19.98 -1.27 L-19.14 -0.42 L-18.30 0.00 L-17.03 0.00 L-16.19 -0.42 L-15.35 -1.27M-11.99 -8.90 L-11.99 -1.70 L-11.57 -0.42 L-10.73 0.00 L-9.88 0.00M-13.25 -5.94 L-10.30 -5.94M-2.73 -5.94 L-2.73 0.00M-2.73 -4.66 L-3.58 -5.51 L-4.42 -5.94 L-5.68 -5.94 L-6.52 -5.51 L-7.36 -4.66 L-7.78 -3.39 L-7.78 -2.54 L-7.36 -1.27 L-6.52 -0.42 L-5.68 0.00 L-4.42 0.00 L-3.58 -0.42 L-2.73 -1.27M0.63 -8.90 L0.63 0.00M4.00 -8.90 L4.00 0.00M6.94 -8.90 L7.36 -8.48 L7.78 -8.90 L7.36 -9.33 L6.94 -8.90M7.36 -5.94 L7.36 0.00M15.35 -4.66 L14.51 -5.51 L13.67 -5.94 L12.41 -5.94 L11.57 -5.51 L10.73 -4.66 L10.30 -3.39 L10.30 -2.54 L10.73 -1.27 L11.57 -0.42 L12.41 0.00 L13.67 0.00 L14.51 -0.42 L15.35 -1.27M17.88 -8.90 L18.30 -8.48 L18.72 -8.90 L18.30 -9.33 L17.88 -8.90M18.30 -5.94 L18.30 0.00M22.08 -8.90 L22.08 -1.70 L22.50 -0.42 L23.34 0.00 L24.18 0.00M20.82 -5.94 L23.76 -5.94M25.87 -5.94 L28.39 0.00M30.91 -5.94 L28.39 0.00 L27.55 1.70 L26.71 2.54 L25.87 2.97 L25.45 2.97" fill="none" stroke="#7a7a7a" stroke-width="0.9" stroke-linecap="round" stroke-linejoin="round"/>
<path transform="translate(19.80 107.77) rotate(-90)" d="M-106.85 -8.90 L-106.85 0.00M-106.85 -8.90 L-103.03 -8.90 L-101.76 -8.48 L-101.34 -8.06 L-100.91 -7.21 L-100.91 -5.94 L-101.34 -5.09 L-101.76 -4.66 L-103.03 -4.24 L-106.85 -4.24M-97.94 -8.90 L-97.94 0.00M-89.89 -5.94 L-89.89 0.00M-89.89 -4.66 L-90.74 -5.51 L-91.58 -5.94 L-92.86 -5.94 L-93.70 -5.51 L-94.55 -4.66 L-94.98 -3.39 L-94.98 -2.54 L-94.55 -1.27 L-93.70 -0.42 L-92.86 0.00 L-91.58 0.00 L-90.74 -0.42 L-89.89 -1.27M-86.50 -5.94 L-86.50 0.00M-86.50 -4.24 L-85.22 -5.51 L-84.38 -5.94 L-83.10 -5.94 L-82.26 -5.51 L-81.83 -4.24 L-81.83 0.00M-78.86 -3.39 L-73.78 -3.39 L-73.78 -4.24 L-74.20 -5.09 L-74.62 -5.51 L-75.47 -5.94 L-76.74 -5.94 L-77.59 -5.51 L-78.44 -4.66 L-78.86 -3.39 L-78.86 -2.54 L-78.44 -1.27 L-77.59 -0.42 L-76.74 0.00 L-75.47 0.00 L-74.62 -0.42 L-73.78 -1.27M-70.38 -8.90 L-70.38 -1.70 L-69.96 -0.42 L-69.11 0.00 L-68.26 0.00M-71.66 -5.94 L-68.69 -5.94M-58.94 -8.90 L-58.94 0.00M-58.94 -8.90 L-53.42 -8.90M-58.94 -4.66 L-55.54 -4.66M-49.61 -5.94 L-50.46 -5.51 L-51.30 -4.66 L-51.73 -3.39 L-51.73 -2.54 L-51.30 -1.27 L-50.46 -0.42 L-49.61 0.00 L-48.34 0.00 L-47.49 -0.42 L-46.64 -1.27 L-46.22 -2.54 L-46.22 -3.39 L-46.64 -4.66 L-47.49 -5.51 L-48.34 -5.94 L-49.61 -5.94M-43.25 -5.94 L-43.25 0.00M-43.25 -3.39 L-42.82 -4.66 L-41.98 -5.51 L-41.13 -5.94 L-39.86 -5.94M-37.74 -5.94 L-37.74 0.00M-37.74 -4.24 L-36.46 -5.51 L-35.62 -5.94 L-34.34 -5.94 L-33.50 -5.51 L-33.07 -4.24 L-33.07 0.00M-33.07 -4.24 L-31.80 -5.51 L-30.95 -5.94 L-29.68 -5.94 L-28.83 -5.51 L-28.41 -4.24 L-28.41 0.00M-20.35 -5.94 L-20.35 0.00M-20.35 -4.66 L-21.20 -5.51 L-22.05 -5.94 L-23.32 -5.94 L-24.17 -5.51 L-25.02 -4.66 L-25.44 -3.39 L-25.44 -2.54 L-25.02 -1.27 L-24.17 -0.42 L-23.32 0.00 L-22.05 0.00 L-21.20 -0.42 L-20.35 -1.27M-16.54 -8.90 L-16.54 -1.70 L-16.11 -0.42 L-15.26 0.00 L-14.42 0.00M-17.81 -5.94 L-14.84 -5.94M-12.30 -8.90 L-11.87 -8.48 L-11.45 -8.90 L-11.87 -9.33 L-12.30 -8.90M-11.87 -5.94 L-11.87 0.00M-6.78 -5.94 L-7.63 -5.51 L-8.48 -4.66 L-8.90 -3.39 L-8.90 -2.54 L-8.48 -1.27 L-7.63 -0.42 L-6.78 0.00 L-5.51 0.00 L-4.66 -0.42 L-3.82 -1.27 L-3.39 -2.54 L-3.39 -3.39 L-3.82 -4.66 L-4.66 -5.51 L-5.51 -5.94 L-6.78 -5.94M-0.42 -5.94 L-0.42 0.00M-0.42 -4.24 L0.85 -5.51 L1.70 -5.94 L2.97 -5.94 L3.82 -5.51 L4.24 -4.24 L4.24 0.00M14.42 -8.90 L14.42 0.00M14.42 -8.90 L19.93 -8.90M14.42 -4.66 L17.81 -4.66M22.05 -5.94 L22.05 0.00M22.05 -3.39 L22.47 -4.66 L23.32 -5.51 L24.17 -5.94 L25.44 -5.94M27.14 -3.39 L32.22 -3.39 L32.22 -4.24 L31.80 -5.09 L31.38 -5.51 L30.53 -5.94 L29.26 -5.94 L28.41 -5.51 L27.56 -4.66 L27.14 -3.39 L27.14 -2.54 L27.56 -1.27 L28.41 -0.42 L29.26 0.00 L30.53 0.00 L31.38 -0.42 L32.22 -1.27M39.86 -5.94 L39.86 2.97M39.86 -4.66 L39.01 -5.51 L38.16 -5.94 L36.89 -5.94 L36.04 -5.51 L35.19 -4.66 L34.77 -3.39 L34.77 -2.54 L35.19 -1.27 L36.04 -0.42 L36.89 0.00 L38.16 0.00 L39.01 -0.42 L39.86 -1.27M43.25 -5.94 L43.25 -1.70 L43.67 -0.42 L44.52 0.00 L45.79 0.00 L46.64 -0.42 L47.91 -1.70M47.91 -5.94 L47.91 0.00M50.88 -3.39 L55.97 -3.39 L55.97 -4.24 L55.54 -5.09 L55.12 -5.51 L54.27 -5.94 L53.00 -5.94 L52.15 -5.51 L51.30 -4.66 L50.88 -3.39 L50.88 -2.54 L51.30 -1.27 L52.15 -0.42 L53.00 0.00 L54.27 0.00 L55.12 -0.42 L55.97 -1.27M58.94 -5.94 L58.94 0.00M58.94 -4.24 L60.21 -5.51 L61.06 -5.94 L62.33 -5.94 L63.18 -5.51 L63.60 -4.24 L63.60 0.00M71.66 -4.66 L70.81 -5.51 L69.96 -5.94 L68.69 -5.94 L67.84 -5.51 L66.99 -4.66 L66.57 -3.39 L66.57 -2.54 L66.99 -1.27 L67.84 -0.42 L68.69 0.00 L69.96 0.00 L70.81 -0.42 L71.66 -1.27M73.78 -5.94 L76.32 0.00M78.86 -5.94 L76.32 0.00 L75.47 1.70 L74.62 2.54 L73.78 2.97 L73.35 2.97M91.16 -10.60 L90.31 -9.75 L89.46 -8.48 L88.62 -6.78 L88.19 -4.66 L88.19 -2.97 L88.62 -0.85 L89.46 0.85 L90.31 2.12 L91.16 2.97M101.34 -8.90 L93.70 0.00M95.82 -8.90 L96.67 -8.06 L96.67 -7.21 L96.25 -6.36 L95.40 -5.94 L94.55 -5.94 L93.70 -6.78 L93.70 -7.63 L94.13 -8.48 L94.98 -8.90 L95.82 -8.90 L96.67 -8.48 L97.94 -8.06 L99.22 -8.06 L100.49 -8.48 L101.34 -8.90M99.64 -2.97 L98.79 -2.54 L98.37 -1.70 L98.37 -0.85 L99.22 0.00 L100.06 0.00 L100.91 -0.42 L101.34 -1.27 L101.34 -2.12 L100.49 -2.97 L99.64 -2.97M103.88 -10.60 L104.73 -9.75 L105.58 -8.48 L106.42 -6.78 L106.85 -4.66 L106.85 -2.97 L106.42 -0.85 L105.58 0.85 L104.73 2.12 L103.88 2.97" fill="none" stroke="#7a7a7a" stroke-width="0.9" stroke-linecap="round" stroke-linejoin="round"/>
<path transform="translate(19.80 285.40) rotate(-90)" d="M-42.36 -7.63 L-49.15 -3.82 L-42.36 0.00M-38.97 -8.90 L-38.97 0.00M-38.97 -8.90 L-35.58 0.00M-32.19 -8.90 L-35.58 0.00M-32.19 -8.90 L-32.19 0.00M-26.55 0.31 L-27.07 -0.22 L-27.60 -0.48 L-28.39 -0.48 L-28.91 -0.22 L-29.44 0.31 L-29.70 1.10 L-29.70 1.62 L-29.44 2.41 L-28.91 2.94 L-28.39 3.20 L-27.60 3.20 L-27.07 2.94 L-26.55 2.41M-24.18 2.94 L-24.44 3.20 L-24.71 2.94 L-24.44 2.67 L-24.18 2.94 L-24.18 3.46 L-24.44 3.99 L-24.71 4.25M-19.19 0.31 L-19.71 -0.22 L-20.24 -0.48 L-21.03 -0.48 L-21.55 -0.22 L-22.08 0.31 L-22.34 1.10 L-22.34 1.62 L-22.08 2.41 L-21.55 2.94 L-21.03 3.20 L-20.24 3.20 L-19.71 2.94 L-19.19 2.41M-17.35 -0.48 L-17.35 3.20M-17.35 1.10 L-17.08 0.31 L-16.56 -0.22 L-16.03 -0.48 L-15.24 -0.48M-14.19 -2.32 L-13.93 -2.06 L-13.67 -2.32 L-13.93 -2.58 L-14.19 -2.32M-13.93 -0.48 L-13.93 3.20M-11.56 -2.32 L-11.56 2.15 L-11.30 2.94 L-10.77 3.20 L-10.25 3.20M-12.35 -0.48 L-10.51 -0.48M-8.03 -7.63 L-1.24 -3.82 L-8.03 0.00M11.90 -10.60 L11.05 -9.75 L10.21 -8.48 L9.36 -6.78 L8.93 -4.66 L8.93 -2.97 L9.36 -0.85 L10.21 0.85 L11.05 2.12 L11.90 2.97M14.87 -8.90 L14.87 0.00M14.87 -8.90 L18.26 0.00M21.65 -8.90 L18.26 0.00M21.65 -8.90 L21.65 0.00M24.40 -2.32 L24.40 3.20M24.40 -2.32 L27.82 -2.32M24.40 0.31 L26.50 0.31M24.40 3.20 L27.82 3.20M32.29 -0.48 L32.29 3.20M32.29 0.31 L31.76 -0.22 L31.24 -0.48 L30.45 -0.48 L29.92 -0.22 L29.40 0.31 L29.13 1.10 L29.13 1.62 L29.40 2.41 L29.92 2.94 L30.45 3.20 L31.24 3.20 L31.76 2.94 L32.29 2.41M34.39 -0.48 L34.39 3.20M34.39 1.10 L34.65 0.31 L35.18 -0.22 L35.71 -0.48 L36.49 -0.48M38.07 -2.32 L38.07 2.15 L38.33 2.94 L38.86 3.20 L39.39 3.20M37.28 -0.48 L39.12 -0.48M40.96 -2.32 L40.96 3.20M40.96 0.57 L41.75 -0.22 L42.28 -0.48 L43.07 -0.48 L43.59 -0.22 L43.85 0.57 L43.85 3.20M46.18 -10.60 L47.03 -9.75 L47.87 -8.48 L48.72 -6.78 L49.15 -4.66 L49.15 -2.97 L48.72 -0.85 L47.87 0.85 L47.03 2.12 L46.18 2.97" fill="none" stroke="#7a7a7a" stroke-width="0.9" stroke-linecap="round" stroke-linejoin="round"/>
<path transform="translate(19.80 463.35) rotate(-90)" d="M-106.85 -8.90 L-106.85 0.00M-106.85 -8.90 L-103.03 -8.90 L-101.76 -8.48 L-101.34 -8.06 L-100.91 -7.21 L-100.91 -5.94 L-101.34 -5.09 L-101.76 -4.66 L-103.03 -4.24 L-106.85 -4.24M-97.94 -8.90 L-97.94 0.00M-89.89 -5.94 L-89.89 0.00M-89.89 -4.66 L-90.74 -5.51 L-91.58 -5.94 L-92.86 -5.94 L-93.70 -5.51 L-94.55 -4.66 L-94.98 -3.39 L-94.98 -2.54 L-94.55 -1.27 L-93.70 -0.42 L-92.86 0.00 L-91.58 0.00 L-90.74 -0.42 L-89.89 -1.27M-86.50 -5.94 L-86.50 0.00M-86.50 -4.24 L-85.22 -5.51 L-84.38 -5.94 L-83.10 -5.94 L-82.26 -5.51 L-81.83 -4.24 L-81.83 0.00M-78.86 -3.39 L-73.78 -3.39 L-73.78 -4.24 L-74.20 -5.09 L-74.62 -5.51 L-75.47 -5.94 L-76.74 -5.94 L-77.59 -5.51 L-78.44 -4.66 L-78.86 -3.39 L-78.86 -2.54 L-78.44 -1.27 L-77.59 -0.42 L-76.74 0.00 L-75.47 0.00 L-74.62 -0.42 L-73.78 -1.27M-70.38 -8.90 L-70.38 -1.70 L-69.96 -0.42 L-69.11 0.00 L-68.26 0.00M-71.66 -5.94 L-68.69 -5.94M-58.94 -8.90 L-58.94 0.00M-58.94 -8.90 L-53.42 -8.90M-58.94 -4.66 L-55.54 -4.66M-49.61 -5.94 L-50.46 -5.51 L-51.30 -4.66 L-51.73 -3.39 L-51.73 -2.54 L-51.30 -1.27 L-50.46 -0.42 L-49.61 0.00 L-48.34 0.00 L-47.49 -0.42 L-46.64 -1.27 L-46.22 -2.54 L-46.22 -3.39 L-46.64 -4.66 L-47.49 -5.51 L-48.34 -5.94 L-49.61 -5.94M-43.25 -5.94 L-43.25 0.00M-43.25 -3.39 L-42.82 -4.66 L-41.98 -5.51 L-41.13 -5.94 L-39.86 -5.94M-37.74 -5.94 L-37.74 0.00M-37.74 -4.24 L-36.46 -5.51 L-35.62 -5.94 L-34.34 -5.94 L-33.50 -5.51 L-33.07 -4.24 L-33.07 0.00M-33.07 -4.24 L-31.80 -5.51 L-30.95 -5.94 L-29.68 -5.94 L-28.83 -5.51 L-28.41 -4.24 L-28.41 0.00M-20.35 -5.94 L-20.35 0.00M-20.35 -4.66 L-21.20 -5.51 L-22.05 -5.94 L-23.32 -5.94 L-24.17 -5.51 L-25.02 -4.66 L-25.44 -3.39 L-25.44 -2.54 L-25.02 -1.27 L-24.17 -0.42 L-23.32 0.00 L-22.05 0.00 L-21.20 -0.42 L-20.35 -1.27M-16.54 -8.90 L-16.54 -1.70 L-16.11 -0.42 L-15.26 0.00 L-14.42 0.00M-17.81 -5.94 L-14.84 -5.94M-12.30 -8.90 L-11.87 -8.48 L-11.45 -8.90 L-11.87 -9.33 L-12.30 -8.90M-11.87 -5.94 L-11.87 0.00M-6.78 -5.94 L-7.63 -5.51 L-8.48 -4.66 L-8.90 -3.39 L-8.90 -2.54 L-8.48 -1.27 L-7.63 -0.42 L-6.78 0.00 L-5.51 0.00 L-4.66 -0.42 L-3.82 -1.27 L-3.39 -2.54 L-3.39 -3.39 L-3.82 -4.66 L-4.66 -5.51 L-5.51 -5.94 L-6.78 -5.94M-0.42 -5.94 L-0.42 0.00M-0.42 -4.24 L0.85 -5.51 L1.70 -5.94 L2.97 -5.94 L3.82 -5.51 L4.24 -4.24 L4.24 0.00M14.42 -8.90 L14.42 0.00M14.42 -8.90 L19.93 -8.90M14.42 -4.66 L17.81 -4.66M22.05 -5.94 L22.05 0.00M22.05 -3.39 L22.47 -4.66 L23.32 -5.51 L24.17 -5.94 L25.44 -5.94M27.14 -3.39 L32.22 -3.39 L32.22 -4.24 L31.80 -5.09 L31.38 -5.51 L30.53 -5.94 L29.26 -5.94 L28.41 -5.51 L27.56 -4.66 L27.14 -3.39 L27.14 -2.54 L27.56 -1.27 L28.41 -0.42 L29.26 0.00 L30.53 0.00 L31.38 -0.42 L32.22 -1.27M39.86 -5.94 L39.86 2.97M39.86 -4.66 L39.01 -5.51 L38.16 -5.94 L36.89 -5.94 L36.04 -5.51 L35.19 -4.66 L34.77 -3.39 L34.77 -2.54 L35.19 -1.27 L36.04 -0.42 L36.89 0.00 L38.16 0.00 L39.01 -0.42 L39.86 -1.27M43.25 -5.94 L43.25 -1.70 L43.67 -0.42 L44.52 0.00 L45.79 0.00 L46.64 -0.42 L47.91 -1.70M47.91 -5.94 L47.91 0.00M50.88 -3.39 L55.97 -3.39 L55.97 -4.24 L55.54 -5.09 L55.12 -5.51 L54.27 -5.94 L53.00 -5.94 L52.15 -5.51 L51.30 -4.66 L50.88 -3.39 L50.88 -2.54 L51.30 -1.27 L52.15 -0.42 L53.00 0.00 L54.27 0.00 L55.12 -0.42 L55.97 -1.27M58.94 -5.94 L58.94 0.00M58.94 -4.24 L60.21 -5.51 L61.06 -5.94 L62.33 -5.94 L63.18 -5.51 L63.60 -4.24 L63.60 0.00M71.66 -4.66 L70.81 -5.51 L69.96 -5.94 L68.69 -5.94 L67.84 -5.51 L66.99 -4.66 L66.57 -3.39 L66.57 -2.54 L66.99 -1.27 L67.84 -0.42 L68.69 0.00 L69.96 0.00 L70.81 -0.42 L71.66 -1.27M73.78 -5.94 L76.32 0.00M78.86 -5.94 L76.32 0.00 L75.47 1.70 L74.62 2.54 L73.78 2.97 L73.35 2.97M91.16 -10.60 L90.31 -9.75 L89.46 -8.48 L88.62 -6.78 L88.19 -4.66 L88.19 -2.97 L88.62 -0.85 L89.46 0.85 L90.31 2.12 L91.16 2.97M101.34 -8.90 L93.70 0.00M95.82 -8.90 L96.67 -8.06 L96.67 -7.21 L96.25 -6.36 L95.40 -5.94 L94.55 -5.94 L93.70 -6.78 L93.70 -7.63 L94.13 -8.48 L94.98 -8.90 L95.82 -8.90 L96.67 -8.48 L97.94 -8.06 L99.22 -8.06 L100.49 -8.48 L101.34 -8.90M99.64 -2.97 L98.79 -2.54 L98.37 -1.70 L98.37 -0.85 L99.22 0.00 L100.06 0.00 L100.91 -0.42 L101.34 -1.27 L101.34 -2.12 L100.49 -2.97 L99.64 -2.97M103.88 -10.60 L104.73 -9.75 L105.58 -8.48 L106.42 -6.78 L106.85 -4.66 L106.85 -2.97 L106.42 -0.85 L105.58 0.85 L104.73 2.12 L103.88 2.97" fill="none" stroke="#7a7a7a" stroke-width="0.9" stroke-linecap="round" stroke-linejoin="round"/>
<path transform="translate(211.00 244.60)" d="M1.42 -7.24 L1.42 0.00M1.42 -7.24 L4.25 0.00M7.09 -7.24 L4.25 0.00M7.09 -7.24 L7.09 0.00M11.73 0.47 L11.30 0.03 L10.87 -0.19 L10.23 -0.19 L9.80 0.03 L9.37 0.47 L9.15 1.13 L9.15 1.58 L9.37 2.24 L9.80 2.68 L10.23 2.90 L10.87 2.90 L11.30 2.68 L11.73 2.24M13.67 2.68 L13.46 2.90 L13.24 2.68 L13.46 2.46 L13.67 2.68 L13.67 3.12 L13.46 3.56 L13.24 3.78M17.77 0.47 L17.34 0.03 L16.91 -0.19 L16.26 -0.19 L15.83 0.03 L15.40 0.47 L15.18 1.13 L15.18 1.58 L15.40 2.24 L15.83 2.68 L16.26 2.90 L16.91 2.90 L17.34 2.68 L17.77 2.24M19.27 -0.19 L19.27 2.90M19.27 1.13 L19.49 0.47 L19.92 0.03 L20.35 -0.19 L21.00 -0.19M21.86 -1.74 L22.08 -1.52 L22.29 -1.74 L22.08 -1.96 L21.86 -1.74M22.08 -0.19 L22.08 2.90M24.01 -1.74 L24.01 2.02 L24.23 2.68 L24.66 2.90 L25.09 2.90M23.37 -0.19 L24.88 -0.19M27.46 -1.74 L26.81 -1.52 L26.38 -0.85 L26.17 0.25 L26.17 0.91 L26.38 2.02 L26.81 2.68 L27.46 2.90 L27.89 2.90 L28.54 2.68 L28.97 2.02 L29.18 0.91 L29.18 0.25 L28.97 -0.85 L28.54 -1.52 L27.89 -1.74 L27.46 -1.74M31.25 -4.14 L37.63 -4.14M31.25 -2.07 L37.63 -2.07M41.17 -5.86 L41.88 -6.21 L42.94 -7.24 L42.94 0.00M49.32 -7.24 L48.25 -6.90 L47.55 -5.86 L47.19 -4.14 L47.19 -3.10 L47.55 -1.38 L48.25 -0.34 L49.32 0.00 L50.03 0.00 L51.09 -0.34 L51.80 -1.38 L52.15 -3.10 L52.15 -4.14 L51.80 -5.86 L51.09 -6.90 L50.03 -7.24 L49.32 -7.24M60.30 -7.24 L60.30 0.00M60.30 -7.24 L63.14 0.00M65.97 -7.24 L63.14 0.00M65.97 -7.24 L65.97 0.00M68.25 -1.74 L68.25 2.90M68.25 -1.74 L71.05 -1.74M68.25 0.47 L69.97 0.47M68.25 2.90 L71.05 2.90M74.71 -0.19 L74.71 2.90M74.71 0.47 L74.28 0.03 L73.85 -0.19 L73.20 -0.19 L72.77 0.03 L72.34 0.47 L72.13 1.13 L72.13 1.58 L72.34 2.24 L72.77 2.68 L73.20 2.90 L73.85 2.90 L74.28 2.68 L74.71 2.24M76.44 -0.19 L76.44 2.90M76.44 1.13 L76.65 0.47 L77.08 0.03 L77.51 -0.19 L78.16 -0.19M79.45 -1.74 L79.45 2.02 L79.67 2.68 L80.10 2.90 L80.53 2.90M78.81 -0.19 L80.31 -0.19M81.82 -1.74 L81.82 2.90M81.82 0.69 L82.47 0.03 L82.90 -0.19 L83.54 -0.19 L83.98 0.03 L84.19 0.69 L84.19 2.90M87.18 -0.34 L86.82 0.00 L86.47 -0.34 L86.82 -0.69 L87.18 -0.34 L87.18 0.34 L86.82 1.03 L86.47 1.38M99.58 -3.79 L98.87 -4.48 L98.16 -4.83 L97.10 -4.83 L96.39 -4.48 L95.68 -3.79 L95.33 -2.76 L95.33 -2.07 L95.68 -1.03 L96.39 -0.34 L97.10 0.00 L98.16 0.00 L98.87 -0.34 L99.58 -1.03M102.06 -4.14 L108.44 -4.14M102.06 -2.07 L108.44 -2.07M115.52 -4.83 L115.17 -3.79 L114.46 -3.10 L113.40 -2.76 L113.04 -2.76 L111.98 -3.10 L111.27 -3.79 L110.92 -4.83 L110.92 -5.17 L111.27 -6.21 L111.98 -6.90 L113.04 -7.24 L113.40 -7.24 L114.46 -6.90 L115.17 -6.21 L115.52 -4.83 L115.52 -3.10 L115.17 -1.38 L114.46 -0.34 L113.40 0.00 L112.69 0.00 L111.63 -0.34 L111.27 -1.03M119.07 -0.34 L118.71 0.00 L118.36 -0.34 L118.71 -0.69 L119.07 -0.34 L119.07 0.34 L118.71 1.03 L118.36 1.38M131.47 -7.24 L131.47 0.00M131.47 -3.79 L130.76 -4.48 L130.05 -4.83 L128.99 -4.83 L128.28 -4.48 L127.57 -3.79 L127.22 -2.76 L127.22 -2.07 L127.57 -1.03 L128.28 -0.34 L128.99 0.00 L130.05 0.00 L130.76 -0.34 L131.47 -1.03M134.30 -4.14 L140.68 -4.14M134.30 -2.07 L140.68 -2.07M143.51 -5.52 L143.51 -5.86 L143.87 -6.55 L144.22 -6.90 L144.93 -7.24 L146.35 -7.24 L147.06 -6.90 L147.41 -6.55 L147.77 -5.86 L147.77 -5.17 L147.41 -4.48 L146.70 -3.45 L143.16 0.00 L148.12 0.00" fill="none" stroke="#7a7a7a" stroke-width="0.9" stroke-linecap="round" stroke-linejoin="round"/>
<rect x="199.50" y="142.50" width="168.00" height="32.00" fill="#fff" stroke="#000" stroke-width="1" stroke-opacity="0.5"/>
<line x1="211.20" y1="152.2" x2="284.20" y2="152.2" stroke="#0000ff" stroke-width="1.6"/>
<rect x="208.90" y="149.90" width="4.60" height="4.60" fill="none" stroke="#0000ff" stroke-width="1.55"/>
<rect x="281.90" y="149.90" width="4.60" height="4.60" fill="none" stroke="#0000ff" stroke-width="1.55"/>
<line x1="211.20" y1="165.2" x2="284.20" y2="165.2" stroke="#ff0000" stroke-width="1.6" stroke-dasharray="4.5 4.0"/>
<path d="M209.15 165.20 L211.20 163.15 L213.25 165.20 L211.20 167.25 Z" fill="#ff0000" fill-opacity="0.45" stroke="#ff0000" stroke-width="1.6"/>
<path d="M282.15 165.20 L284.20 163.15 L286.25 165.20 L284.20 167.25 Z" fill="#ff0000" fill-opacity="0.45" stroke="#ff0000" stroke-width="1.6"/>
<path transform="translate(292.60 155.80)" d="M1.39 -7.56 L1.39 0.00M1.39 -7.56 L5.91 -7.56M1.39 -3.96 L4.17 -3.96M1.39 0.00 L5.91 0.00M7.65 -5.04 L11.48 0.00M11.48 -5.04 L7.65 0.00M15.30 -5.04 L14.61 -4.68 L13.91 -3.96 L13.56 -2.88 L13.56 -2.16 L13.91 -1.08 L14.61 -0.36 L15.30 0.00 L16.34 0.00 L17.04 -0.36 L17.74 -1.08 L18.08 -2.16 L18.08 -2.88 L17.74 -3.96 L17.04 -4.68 L16.34 -5.04 L15.30 -5.04M20.52 -3.24 L26.78 -3.24M32.34 -7.56 L32.34 -1.80 L31.99 -0.72 L31.65 -0.36 L30.95 0.00 L30.26 0.00 L29.56 -0.36 L29.21 -0.72 L28.86 -1.80 L28.86 -2.52M35.12 -5.04 L35.12 -1.44 L35.47 -0.36 L36.17 0.00 L37.21 0.00 L37.91 -0.36 L38.95 -1.44M38.95 -5.04 L38.95 0.00M41.73 -5.04 L41.73 2.52M41.73 -3.96 L42.43 -4.68 L43.12 -5.04 L44.17 -5.04 L44.86 -4.68 L45.56 -3.96 L45.90 -2.88 L45.90 -2.16 L45.56 -1.08 L44.86 -0.36 L44.17 0.00 L43.12 0.00 L42.43 -0.36 L41.73 -1.08M47.99 -7.56 L48.34 -7.20 L48.69 -7.56 L48.34 -7.92 L47.99 -7.56M48.34 -5.04 L48.34 0.00M51.47 -7.56 L51.47 -1.44 L51.82 -0.36 L52.51 0.00 L53.21 0.00M50.43 -5.04 L52.86 -5.04M54.95 -2.88 L59.12 -2.88 L59.12 -3.60 L58.77 -4.32 L58.42 -4.68 L57.73 -5.04 L56.68 -5.04 L55.99 -4.68 L55.29 -3.96 L54.95 -2.88 L54.95 -2.16 L55.29 -1.08 L55.99 -0.36 L56.68 0.00 L57.73 0.00 L58.42 -0.36 L59.12 -1.08M61.55 -5.04 L61.55 0.00M61.55 -2.88 L61.90 -3.96 L62.60 -4.68 L63.29 -5.04 L64.34 -5.04M69.55 -3.96 L69.20 -4.68 L68.16 -5.04 L67.12 -5.04 L66.07 -4.68 L65.73 -3.96 L66.07 -3.24 L66.77 -2.88 L68.51 -2.52 L69.20 -2.16 L69.55 -1.44 L69.55 -1.08 L69.20 -0.36 L68.16 0.00 L67.12 0.00 L66.07 -0.36 L65.73 -1.08" fill="none" stroke="#7a7a7a" stroke-width="0.9" stroke-linecap="round" stroke-linejoin="round"/>
<path transform="translate(292.60 168.60)" d="M1.39 -7.56 L1.39 0.00M6.26 -7.56 L6.26 0.00M1.39 -3.96 L6.26 -3.96M10.43 -5.04 L9.74 -4.68 L9.04 -3.96 L8.69 -2.88 L8.69 -2.16 L9.04 -1.08 L9.74 -0.36 L10.43 0.00 L11.48 0.00 L12.17 -0.36 L12.87 -1.08 L13.21 -2.16 L13.21 -2.88 L12.87 -3.96 L12.17 -4.68 L11.48 -5.04 L10.43 -5.04M16.00 -7.56 L16.00 -1.44 L16.34 -0.36 L17.04 0.00 L17.74 0.00M14.95 -5.04 L17.39 -5.04M28.17 -7.56 L28.17 -1.80 L27.82 -0.72 L27.47 -0.36 L26.78 0.00 L26.08 0.00 L25.39 -0.36 L25.04 -0.72 L24.69 -1.80 L24.69 -2.52M30.95 -5.04 L30.95 -1.44 L31.30 -0.36 L31.99 0.00 L33.04 0.00 L33.73 -0.36 L34.78 -1.44M34.78 -5.04 L34.78 0.00M37.56 -5.04 L37.56 2.52M37.56 -3.96 L38.25 -4.68 L38.95 -5.04 L39.99 -5.04 L40.69 -4.68 L41.38 -3.96 L41.73 -2.88 L41.73 -2.16 L41.38 -1.08 L40.69 -0.36 L39.99 0.00 L38.95 0.00 L38.25 -0.36 L37.56 -1.08M43.82 -7.56 L44.17 -7.20 L44.51 -7.56 L44.17 -7.92 L43.82 -7.56M44.17 -5.04 L44.17 0.00M47.30 -7.56 L47.30 -1.44 L47.64 -0.36 L48.34 0.00 L49.03 0.00M46.25 -5.04 L48.69 -5.04M50.77 -2.88 L54.95 -2.88 L54.95 -3.60 L54.60 -4.32 L54.25 -4.68 L53.56 -5.04 L52.51 -5.04 L51.82 -4.68 L51.12 -3.96 L50.77 -2.88 L50.77 -2.16 L51.12 -1.08 L51.82 -0.36 L52.51 0.00 L53.56 0.00 L54.25 -0.36 L54.95 -1.08M57.38 -5.04 L57.38 0.00M57.38 -2.88 L57.73 -3.96 L58.42 -4.68 L59.12 -5.04 L60.16 -5.04M65.38 -3.96 L65.03 -4.68 L63.99 -5.04 L62.94 -5.04 L61.90 -4.68 L61.55 -3.96 L61.90 -3.24 L62.60 -2.88 L64.34 -2.52 L65.03 -2.16 L65.38 -1.44 L65.38 -1.08 L65.03 -0.36 L63.99 0.00 L62.94 0.00 L61.90 -0.36 L61.55 -1.08" fill="none" stroke="#7a7a7a" stroke-width="0.9" stroke-linecap="round" stroke-linejoin="round"/>
<rect x="185.50" y="509.50" width="197.00" height="32.00" fill="#fff" stroke="#000" stroke-width="1" stroke-opacity="0.5"/>
<line x1="197.50" y1="518.8" x2="270.20" y2="518.8" stroke="#000" stroke-width="2"/>
<path d="M195.20 516.50 L199.80 521.10 M195.20 521.10 L199.80 516.50" fill="none" stroke="#000" stroke-width="1.9"/>
<path d="M267.90 516.50 L272.50 521.10 M267.90 521.10 L272.50 516.50" fill="none" stroke="#000" stroke-width="1.9"/>
<line x1="197.50" y1="532.3" x2="270.20" y2="532.3" stroke="#00ff00" stroke-width="1.35" stroke-dasharray="0.1 2.65" stroke-linecap="round"/>
<path d="M195.10 534.50 L197.50 529.70 L199.90 534.50 Z" fill="none" stroke="#00ff00" stroke-width="1.5" stroke-linejoin="round"/>
<path d="M267.80 534.50 L270.20 529.70 L272.60 534.50 Z" fill="none" stroke="#00ff00" stroke-width="1.5" stroke-linejoin="round"/>
<path transform="translate(278.00 521.90)" d="M2.82 -7.56 L2.82 0.00M0.35 -7.56 L5.29 -7.56M8.47 -5.04 L7.76 -4.68 L7.06 -3.96 L6.70 -2.88 L6.70 -2.16 L7.06 -1.08 L7.76 -0.36 L8.47 0.00 L9.53 0.00 L10.23 -0.36 L10.94 -1.08 L11.29 -2.16 L11.29 -2.88 L10.94 -3.96 L10.23 -4.68 L9.53 -5.04 L8.47 -5.04M14.11 -7.56 L14.11 -1.44 L14.46 -0.36 L15.17 0.00 L15.88 0.00M13.05 -5.04 L15.52 -5.04M21.87 -5.04 L21.87 0.00M21.87 -3.96 L21.17 -4.68 L20.46 -5.04 L19.40 -5.04 L18.70 -4.68 L17.99 -3.96 L17.64 -2.88 L17.64 -2.16 L17.99 -1.08 L18.70 -0.36 L19.40 0.00 L20.46 0.00 L21.17 -0.36 L21.87 -1.08M24.70 -7.56 L24.70 0.00" fill="none" stroke="#7a7a7a" stroke-width="0.9" stroke-linecap="round" stroke-linejoin="round"/>
<path transform="translate(278.00 534.80)" d="M1.41 -7.56 L1.41 0.00M1.41 0.00 L5.64 0.00M8.82 -5.04 L8.11 -4.68 L7.41 -3.96 L7.06 -2.88 L7.06 -2.16 L7.41 -1.08 L8.11 -0.36 L8.82 0.00 L9.88 0.00 L10.58 -0.36 L11.29 -1.08 L11.64 -2.16 L11.64 -2.88 L11.29 -3.96 L10.58 -4.68 L9.88 -5.04 L8.82 -5.04M13.76 -5.04 L15.17 0.00M16.58 -5.04 L15.17 0.00M16.58 -5.04 L17.99 0.00M19.40 -5.04 L17.99 0.00M27.52 -5.04 L27.52 0.00M27.52 -3.60 L28.58 -4.68 L29.28 -5.04 L30.34 -5.04 L31.05 -4.68 L31.40 -3.60 L31.40 0.00M31.40 -3.60 L32.46 -4.68 L33.16 -5.04 L34.22 -5.04 L34.93 -4.68 L35.28 -3.60 L35.28 0.00M41.98 -5.04 L41.98 0.00M41.98 -3.96 L41.28 -4.68 L40.57 -5.04 L39.51 -5.04 L38.81 -4.68 L38.10 -3.96 L37.75 -2.88 L37.75 -2.16 L38.10 -1.08 L38.81 -0.36 L39.51 0.00 L40.57 0.00 L41.28 -0.36 L41.98 -1.08M48.33 -3.96 L47.98 -4.68 L46.92 -5.04 L45.86 -5.04 L44.81 -4.68 L44.45 -3.96 L44.81 -3.24 L45.51 -2.88 L47.28 -2.52 L47.98 -2.16 L48.33 -1.44 L48.33 -1.08 L47.98 -0.36 L46.92 0.00 L45.86 0.00 L44.81 -0.36 L44.45 -1.08M54.33 -3.96 L53.98 -4.68 L52.92 -5.04 L51.86 -5.04 L50.80 -4.68 L50.45 -3.96 L50.80 -3.24 L51.51 -2.88 L53.27 -2.52 L53.98 -2.16 L54.33 -1.44 L54.33 -1.08 L53.98 -0.36 L52.92 0.00 L51.86 0.00 L50.80 -0.36 L50.45 -1.08M62.45 -5.04 L62.45 2.52M62.45 -3.96 L63.15 -4.68 L63.86 -5.04 L64.92 -5.04 L65.62 -4.68 L66.33 -3.96 L66.68 -2.88 L66.68 -2.16 L66.33 -1.08 L65.62 -0.36 L64.92 0.00 L63.86 0.00 L63.15 -0.36 L62.45 -1.08M69.15 -7.56 L69.15 0.00M75.85 -5.04 L75.85 0.00M75.85 -3.96 L75.15 -4.68 L74.44 -5.04 L73.38 -5.04 L72.68 -4.68 L71.97 -3.96 L71.62 -2.88 L71.62 -2.16 L71.97 -1.08 L72.68 -0.36 L73.38 0.00 L74.44 0.00 L75.15 -0.36 L75.85 -1.08M78.67 -5.04 L78.67 0.00M78.67 -3.60 L79.73 -4.68 L80.44 -5.04 L81.50 -5.04 L82.20 -4.68 L82.56 -3.60 L82.56 0.00M85.02 -2.88 L89.26 -2.88 L89.26 -3.60 L88.91 -4.32 L88.55 -4.68 L87.85 -5.04 L86.79 -5.04 L86.08 -4.68 L85.38 -3.96 L85.02 -2.88 L85.02 -2.16 L85.38 -1.08 L86.08 -0.36 L86.79 0.00 L87.85 0.00 L88.55 -0.36 L89.26 -1.08M92.08 -7.56 L92.08 -1.44 L92.43 -0.36 L93.14 0.00 L93.84 0.00M91.02 -5.04 L93.49 -5.04M99.49 -3.96 L99.14 -4.68 L98.08 -5.04 L97.02 -5.04 L95.96 -4.68 L95.61 -3.96 L95.96 -3.24 L96.67 -2.88 L98.43 -2.52 L99.14 -2.16 L99.49 -1.44 L99.49 -1.08 L99.14 -0.36 L98.08 0.00 L97.02 0.00 L95.96 -0.36 L95.61 -1.08" fill="none" stroke="#7a7a7a" stroke-width="0.9" stroke-linecap="round" stroke-linejoin="round"/>
</svg>
</body></html>
